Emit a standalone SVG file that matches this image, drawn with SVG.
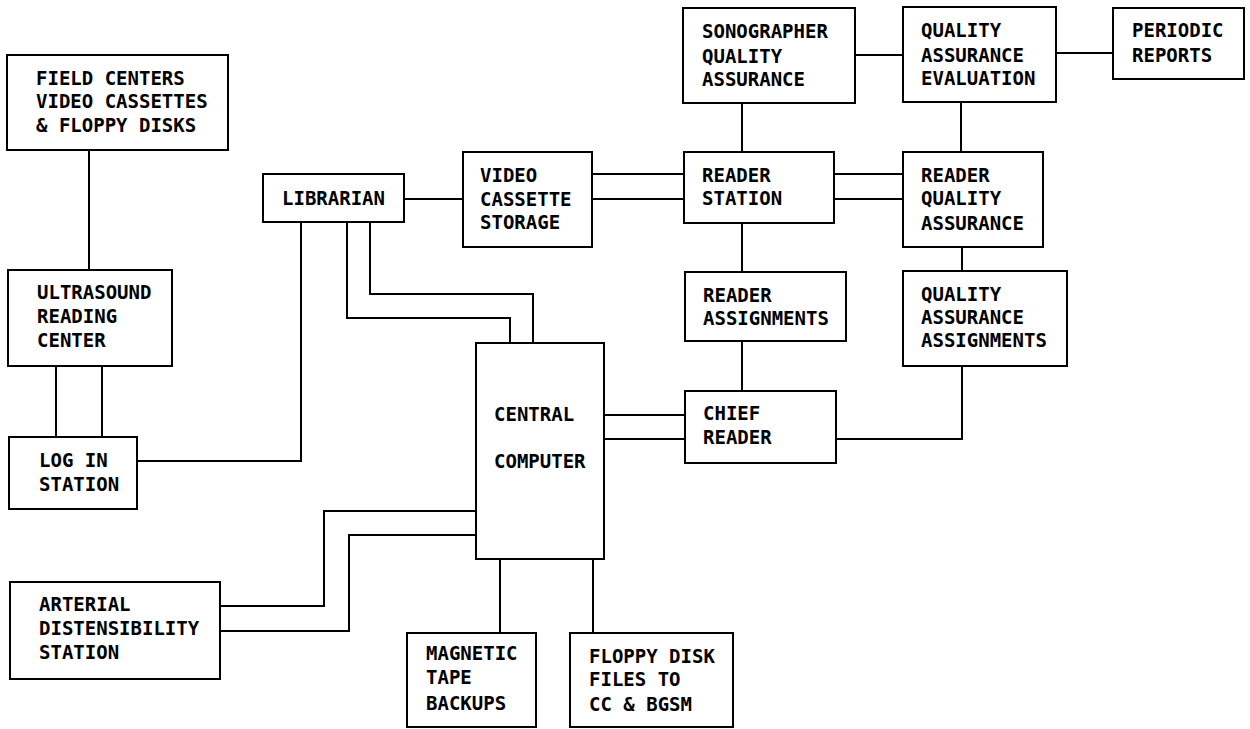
<svg xmlns="http://www.w3.org/2000/svg" width="1250" height="729" viewBox="0 0 1250 729">
<style>
rect{fill:#fff;stroke:#000;stroke-width:2}
.c{fill:none;stroke:#000;stroke-width:2}
text{font-family:"DejaVu Sans Mono","Liberation Mono",monospace;font-weight:bold;font-size:19px;fill:#000}
</style>
<rect x="0" y="0" width="1250" height="729" style="stroke:none"/>
<g id="connectors">
<path class="c" d="M89 150V270"/>
<path class="c" d="M56 366V437M102 366V437"/>
<path class="c" d="M137 461H301V222"/>
<path class="c" d="M347 222V318H510V343"/>
<path class="c" d="M370 222V294H533V343"/>
<path class="c" d="M404 199H462"/>
<path class="c" d="M592 174H684M592 199H684"/>
<path class="c" d="M742 103V152"/>
<path class="c" d="M855 55H903"/>
<path class="c" d="M1056 53H1113"/>
<path class="c" d="M961 102V152"/>
<path class="c" d="M834 174H903M834 199H903"/>
<path class="c" d="M962 247V271"/>
<path class="c" d="M742 223V272"/>
<path class="c" d="M742 341V391"/>
<path class="c" d="M604 415H685M604 439H685"/>
<path class="c" d="M836 439H962V366"/>
<path class="c" d="M220 606H324V511H476"/>
<path class="c" d="M220 631H349V535H476"/>
<path class="c" d="M500 559V633"/>
<path class="c" d="M593 559V633"/>
</g>
<g id="field-centers"><rect x="7" y="55" width="221" height="95"/>
<text x="36" y="85">FIELD CENTERS</text><text x="36" y="108">VIDEO CASSETTES</text><text x="36" y="132">&amp; FLOPPY DISKS</text></g>
<g id="ultrasound"><rect x="8" y="270" width="164" height="96"/>
<text x="37" y="299">ULTRASOUND</text><text x="37" y="323">READING</text><text x="37" y="347">CENTER</text></g>
<g id="log-in"><rect x="9" y="437" width="128" height="72"/>
<text x="39" y="467">LOG IN</text><text x="39" y="491">STATION</text></g>
<g id="arterial"><rect x="10" y="582" width="210" height="97"/>
<text x="39" y="611">ARTERIAL</text><text x="39" y="635">DISTENSIBILITY</text><text x="39" y="659">STATION</text></g>
<g id="librarian"><rect x="263" y="174" width="141" height="48"/>
<text x="282" y="205">LIBRARIAN</text></g>
<g id="video-storage"><rect x="463" y="152" width="129" height="95"/>
<text x="480" y="182">VIDEO</text><text x="480" y="206">CASSETTE</text><text x="480" y="229">STORAGE</text></g>
<g id="sonographer"><rect x="683" y="8" width="172" height="95"/>
<text x="702" y="38">SONOGRAPHER</text><text x="702" y="63">QUALITY</text><text x="702" y="86">ASSURANCE</text></g>
<g id="qa-evaluation"><rect x="903" y="7" width="153" height="95"/>
<text x="921" y="37">QUALITY</text><text x="921" y="62">ASSURANCE</text><text x="921" y="85">EVALUATION</text></g>
<g id="periodic"><rect x="1113" y="8" width="131" height="71"/>
<text x="1132" y="37">PERIODIC</text><text x="1132" y="62">REPORTS</text></g>
<g id="reader-station"><rect x="684" y="152" width="150" height="71"/>
<text x="702" y="182">READER</text><text x="702" y="205">STATION</text></g>
<g id="reader-qa"><rect x="903" y="152" width="140" height="95"/>
<text x="921" y="182">READER</text><text x="921" y="205">QUALITY</text><text x="921" y="230">ASSURANCE</text></g>
<g id="reader-assignments"><rect x="685" y="272" width="161" height="69"/>
<text x="703" y="302">READER</text><text x="703" y="325">ASSIGNMENTS</text></g>
<g id="qa-assignments"><rect x="903" y="271" width="164" height="95"/>
<text x="921" y="301">QUALITY</text><text x="921" y="324">ASSURANCE</text><text x="921" y="347">ASSIGNMENTS</text></g>
<g id="chief-reader"><rect x="685" y="391" width="151" height="72"/>
<text x="703" y="420">CHIEF</text><text x="703" y="444">READER</text></g>
<g id="central-computer"><rect x="476" y="343" width="128" height="216"/>
<text x="494" y="421">CENTRAL</text><text x="494" y="468">COMPUTER</text></g>
<g id="magnetic"><rect x="407" y="633" width="129" height="94"/>
<text x="426" y="660">MAGNETIC</text><text x="426" y="684">TAPE</text><text x="426" y="710">BACKUPS</text></g>
<g id="floppy"><rect x="570" y="633" width="163" height="94"/>
<text x="589" y="663">FLOPPY DISK</text><text x="589" y="686">FILES TO</text><text x="589" y="711">CC &amp; BGSM</text></g>
</svg>
